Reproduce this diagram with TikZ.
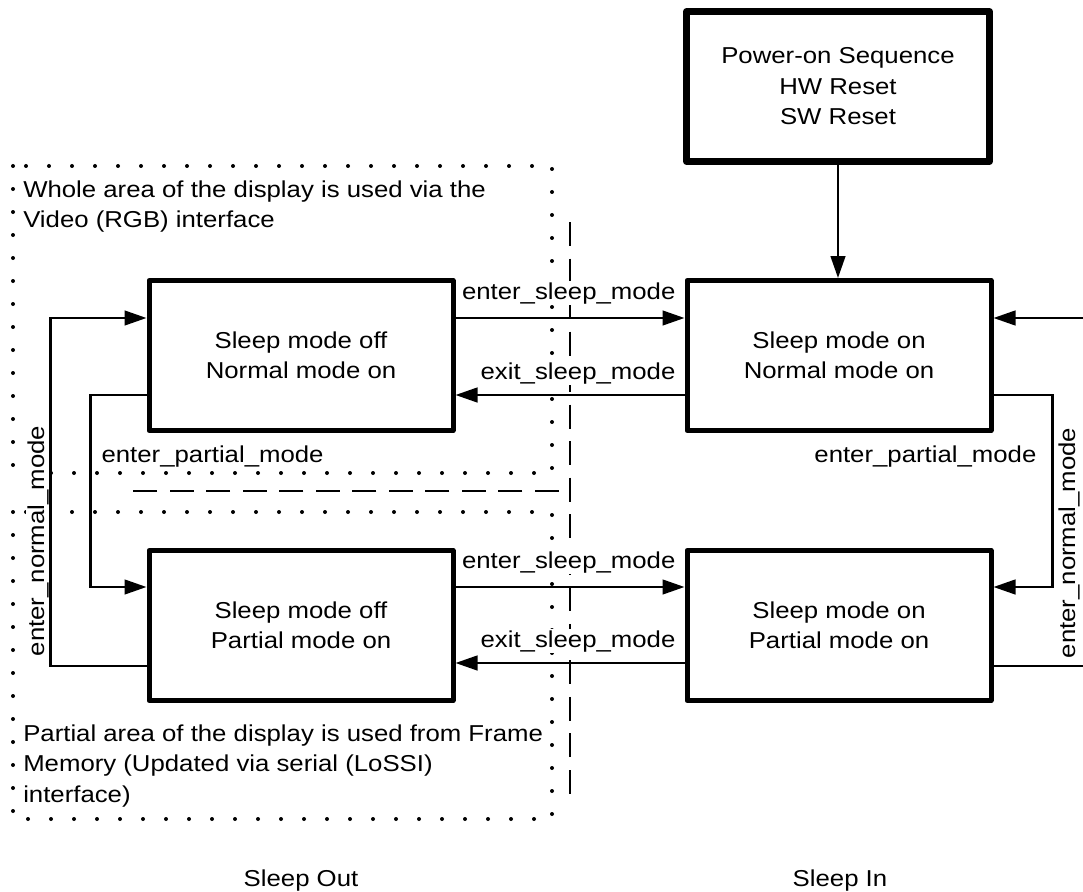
\documentclass[tikz,border=0pt]{standalone}
\usepackage{fontspec}
\setmainfont{Liberation Sans}[FakeStretch=1.12]
\usetikzlibrary{arrows.meta}
\begin{document}
\begin{tikzpicture}[x=0.75pt,y=-0.75pt,
  txtfont/.style={font=\fontsize{17.25pt}{22.9pt}\selectfont},
  lbl/.style={txtfont, fill=white, inner sep=1pt},
  statebox/.style={draw, line width=3.75pt, line join=round, minimum width=228pt, minimum height=112.5pt, align=center, inner sep=0pt, txtfont},
  conn/.style={line width=1.8pt, -{Triangle[length=16.5pt,width=11pt]}},
  dotbox/.style={line width=3pt, line cap=round, dash pattern=on 0pt off 17.25pt},
  dashline/.style={line width=1pt, dash pattern=on 18pt off 9.4pt}]
\clip (0,0) rectangle (1083,892);
\fill[white] (0,0) rectangle (1083,892);

% dotted regions
\draw[dotbox] (13,166) rectangle (552,473);
\draw[dotbox] (13,512) rectangle (552,819);
% dashed separators
\draw[dashline] (570,222) -- (570,795);
\draw[dashline] (559,491) -- (128,491);

% region texts
\node[txtfont, inner sep=0pt, anchor=north west, align=left] (wholetxt) at (23,180.5)
  {Whole area of the display is used via the\\Video (RGB) interface};
\node[txtfont, inner sep=0pt, anchor=north west, align=left] (parttxt) at (23,724.5)
  {Partial area of the display is used from Frame\\Memory (Updated via serial (LoSSI)\\interface)};

% states
\node[statebox, line width=5pt, minimum width=227.25pt] (P) at (838,86.5) {Power-on Sequence\\HW Reset\\SW Reset};
\node[statebox] (A) at (301,355.5) {Sleep mode off\\Normal mode on};
\node[statebox] (B) at (839,355.5) {Sleep mode on\\Normal mode on};
\node[statebox] (C) at (301,625.5) {Sleep mode off\\Partial mode on};
\node[statebox] (D) at (839,625.5) {Sleep mode on\\Partial mode on};

% connector labels
\node[lbl, anchor=base east] (l1) at (677,299) {enter\_sleep\_mode};
\node[lbl, anchor=base east] (l2) at (677,379) {exit\_sleep\_mode};
\node[lbl, anchor=base east] (l3) at (677,568) {enter\_sleep\_mode};
\node[lbl, anchor=base east] (l4) at (677,647) {exit\_sleep\_mode};
\node[lbl, anchor=base west] (l5) at (100,462) {enter\_partial\_mode};
\node[lbl, anchor=base east] (l6) at (1038,462) {enter\_partial\_mode};
\node[lbl, anchor=base, rotate=90] (l7) at (44,541) {enter\_normal\_mode};
\node[lbl, anchor=base, rotate=90] (l8) at (1075,543) {enter\_normal\_mode};

% connectors
\draw[conn] (P.south) -- (P.south |- B.north);
\draw[conn] ([yshift=28.125pt]A.east) -- ([yshift=28.125pt]B.west);
\draw[conn] ([yshift=-29.625pt]B.west) -- ([yshift=-29.625pt]A.east);
\draw[conn] ([yshift=28.875pt]C.east) -- ([yshift=28.875pt]D.west);
\draw[conn] ([yshift=-28.125pt]D.west) -- ([yshift=-28.125pt]C.east);
\draw[conn] ([yshift=-29.625pt]A.west) -- ++(-56,0) |- ([yshift=28.875pt]C.west);
\draw[conn] ([yshift=-30.375pt]C.west) -- ++(-96,0) |- ([yshift=28.125pt]A.west);
\draw[conn] ([yshift=-29.625pt]B.east) -- ++(59,0) |- ([yshift=28.875pt]D.east);
\draw[conn] ([yshift=-30.375pt]D.east) -- ++(120,0) |- ([yshift=28.125pt]B.east);

% column titles
\node[txtfont, inner sep=0pt, anchor=base] (sout) at (301,886) {Sleep Out};
\node[txtfont, inner sep=0pt, anchor=base] (sin) at (840,886) {Sleep In};
\end{tikzpicture}
\end{document}
